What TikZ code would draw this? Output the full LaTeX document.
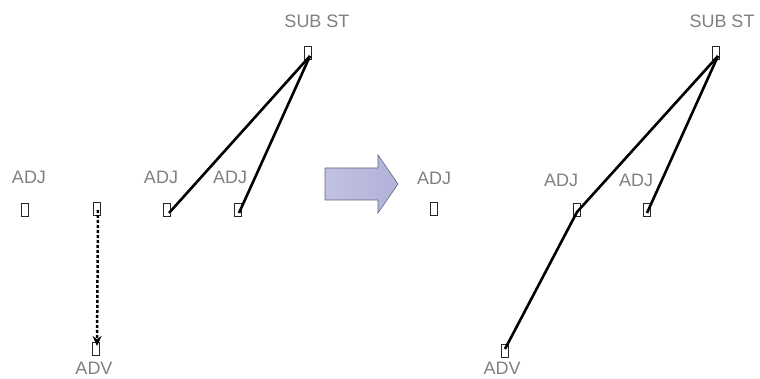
\documentclass[tikz,border=0pt]{standalone}
\usepackage{fontspec}
\setmainfont{Liberation Sans}
\usetikzlibrary{arrows.meta,calc}
\definecolor{lbl}{RGB}{128,128,128}
\definecolor{arrfill}{RGB}{178,178,218}
\definecolor{arrline}{RGB}{100,100,120}
\tikzset{
  lab/.style={text=lbl, font=\fontsize{18}{20}\selectfont, inner sep=0pt, anchor=center},
  slot/.style={draw=black!85, line width=1.4pt, minimum width=6.5pt, minimum height=13pt, inner sep=0pt},
  link/.style={line width=2.6pt, black},
  dlink/.style={line width=2.5pt, black, dash pattern=on 3pt off 2pt, -{Stealth[length=10pt,width=9pt]}}
}
\begin{document}
\begin{tikzpicture}[x=1pt,y=-1pt]
\useasboundingbox (0,0) rectangle (760,379);
% left
\node[lab] (tA) at (29,177) {ADJ};
\node[slot] (bA) at (25,210) {};
\node[slot] (bB) at (97,209) {};
\node[slot] (bC) at (96,349) {};
\node[lab] (tC) at (94,368) {ADV};
\node[lab] (t1) at (161,177) {ADJ};
\node[slot] (b1) at (167,210) {};
\node[lab] (t2) at (230,177) {ADJ};
\node[slot] (b2) at (238,210) {};
\node[lab] (tS) at (317,21) {SUB ST};
\node[slot] (bS) at (308,53) {};
\draw[link] ($(bS.center)+(2,3)$) -- ($(b1.center)+(2,3)$);
\draw[link] ($(bS.center)+(2,3)$) -- ($(b2.center)+(1,3)$);
\draw[dlink] ($(bB.center)+(1,1)$) -- ($(bC.center)+(1,-3)$);
% big arrow
\shade[left color=arrfill!80!white, right color=arrfill, draw=arrline, line width=0.6pt]
  (325,168) -- (378,168) -- (378,155) -- (398,184) -- (378,213) -- (378,200) -- (325,200) -- cycle;
% right
\node[lab] (rtA) at (434,178) {ADJ};
\node[slot] (rA) at (434,209) {};
\node[lab] (rt1) at (561,180) {ADJ};
\node[slot] (r1) at (577,210) {};
\node[lab] (rt2) at (636,180) {ADJ};
\node[slot] (r2) at (647,210) {};
\node[lab] (rtS) at (722,21) {SUB ST};
\node[slot] (rS) at (716,53) {};
\node[slot] (rC) at (505,351) {};
\node[lab] (rtC) at (502,368) {ADV};
\draw[link] ($(rS.center)+(2,3)$) -- ($(r1.center)+(0,2)$) -- ($(rC.center)+(0,-2)$);
\draw[link] ($(rS.center)+(2,3)$) -- ($(r2.center)+(0,3)$);
\end{tikzpicture}
\end{document}
